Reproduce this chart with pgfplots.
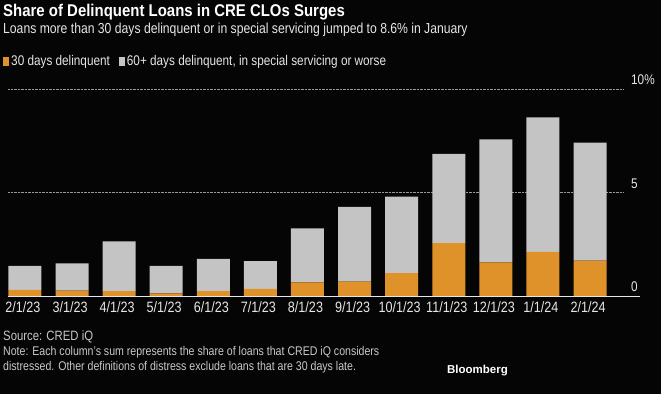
\documentclass[border=0pt]{standalone}
\usepackage{pgfplots}
\pgfplotsset{compat=1.18}
\usepackage{fontspec}
\setmainfont{Liberation Sans}[FakeStretch=0.84]
\newfontfamily\titlefont{Liberation Sans}[FakeStretch=0.88]
\newfontfamily\brandfont{Liberation Sans}
\definecolor{bg}{HTML}{050505}
\definecolor{org}{HTML}{E0922A}
\definecolor{gry}{HTML}{C4C4C4}
\definecolor{txt}{HTML}{E6E6E6}
\definecolor{src}{HTML}{C8C8C8}
\begin{document}
\begin{tikzpicture}
\useasboundingbox (0,0) rectangle (661pt,394pt);
\fill[bg] (0,0) rectangle (661pt,394pt);
\begin{axis}[
  at={(8pt,98pt)}, anchor=south west,
  scale only axis, width=615pt, height=207pt,
  xmin=-0.36, xmax=12.7, ymin=0, ymax=10,
  ybar stacked, bar width=33pt,
  axis x line*=bottom, axis y line*=right,
  axis line style={draw=none},
  major tick length=0pt,
  ymajorgrids, grid style={densely dotted, color=gray!80, line width=0.6pt},
  xtick=data,
  xticklabels={2/1/23,3/1/23,4/1/23,5/1/23,6/1/23,7/1/23,8/1/23,9/1/23,10/1/23,11/1/23,12/1/23,1/1/24,2/1/24},
  xticklabel style={font=\fontsize{15}{15}\selectfont, text=txt, anchor=north, inner sep=0pt, yshift=-5pt, xshift=-2pt},
  ytick={0,5,10}, yticklabels={0,5,10\%},
  yticklabel pos=right,
  yticklabel style={font=\fontsize{14}{14}\selectfont, text=txt, anchor=south west, inner sep=0pt, xshift=8pt, yshift=4pt},
  legend style={at={(axis description cs:-0.0081,1.174)}, anchor=north west, draw=none, fill=none, text=txt,
    font=\fontsize{14}{14}\selectfont, legend columns=2, inner sep=0pt,
    /tikz/every even column/.append style={column sep=7pt}},
  legend image code/.code={\fill[#1] (0pt,-4.5pt) rectangle (6pt,4.5pt);},
  legend cell align=left,
]
\addplot[fill=org, draw=none] coordinates {(0,0.29) (1,0.26) (2,0.23) (3,0.13) (4,0.24) (5,0.35) (6,0.66) (7,0.69) (8,1.10) (9,2.56) (10,1.63) (11,2.13) (12,1.71)};
\addplot[fill=gry, draw=none] coordinates {(0,1.16) (1,1.32) (2,2.41) (3,1.32) (4,1.55) (5,1.34) (6,2.61) (7,3.62) (8,3.70) (9,4.30) (10,5.94) (11,6.50) (12,5.70)};
\legend{30 days delinquent, {60+ days delinquent, in special servicing or worse}}
\end{axis}
\draw[txt, line width=1pt] (8pt,98pt) -- (640pt,98pt);
\node[anchor=base west, inner sep=0pt, text=white] at (3pt,377pt) {\titlefont\bfseries\fontsize{17}{17}\selectfont Share of Delinquent Loans in CRE CLOs Surges};
\node[anchor=base west, inner sep=0pt, text=txt] at (3pt,360.5pt) {\fontsize{14.5}{14.5}\selectfont Loans more than 30 days delinquent or in special servicing jumped to 8.6\% in January};
\node[anchor=base west, inner sep=0pt, text=src] at (3pt,54pt) {\fontsize{13.5}{13.5}\selectfont Source: CRED iQ};
\node[anchor=base west, inner sep=0pt, text=src] at (3pt,39pt) {\fontsize{12.6}{12.6}\selectfont Note: Each column's sum represents the share of loans that CRED iQ considers};
\node[anchor=base west, inner sep=0pt, text=src] at (3pt,24pt) {\fontsize{12.6}{12.6}\selectfont distressed. Other definitions of distress exclude loans that are 30 days late.};
\node[anchor=base east, inner sep=0pt, text=white] at (508pt,21pt) {\brandfont\bfseries\fontsize{11.5}{11.5}\selectfont Bloomberg};
\end{tikzpicture}
\end{document}
